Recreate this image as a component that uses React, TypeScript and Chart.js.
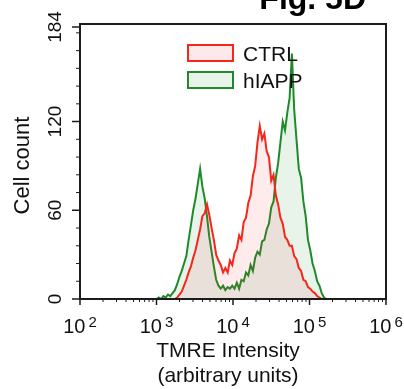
import React, { useEffect, useRef } from 'react';
import { Chart, registerables } from 'chart.js';

Chart.register(...registerables);

// ---- data ----
const binLog10 = [
  3.00, 3.03, 3.06, 3.09, 3.12, 3.15, 3.18, 3.21, 3.24, 3.27,
  3.30, 3.33, 3.36, 3.39, 3.42, 3.45, 3.48, 3.51, 3.54, 3.57,
  3.60, 3.63, 3.66, 3.69, 3.72, 3.75, 3.78, 3.81, 3.84, 3.87,
  3.90, 3.93, 3.96, 3.99, 4.02, 4.05, 4.08, 4.11, 4.14, 4.17,
  4.20, 4.23, 4.26, 4.29, 4.32, 4.35, 4.38, 4.41, 4.44, 4.47,
  4.50, 4.53, 4.56, 4.59, 4.62, 4.65, 4.68, 4.71, 4.74, 4.77,
  4.80, 4.83, 4.86, 4.89, 4.92, 4.95, 4.98, 5.01, 5.04, 5.07,
  5.10, 5.13, 5.16, 5.19, 5.22, 5.25,
];

const ctrlCounts = [
  null, null, null, null, null, null, null, null, 0, 1,
  3, 5, 9, 13, 18, 22, 28, 33, 40, 47,
  56, 58, 64, 57, 48, 40, 30, 26, 23, 18,
  21, 18, 26, 23, 31, 34, 43, 40, 52, 55,
  65, 70, 83, 90, 106, 117, 108, 112, 100, 96,
  80, 84, 70, 64, 55, 51, 42, 40, 36, 36,
  29, 27, 21, 19, 13, 12, 8, 7, 5, 4,
  2, 1, 0, null, null, null,
];

const hiappCounts = [
  0, 1, 0, 2, 1, 3, 2, 4, 6, 10,
  15, 19, 24, 29, 40, 50, 60, 68, 78, 88,
  76, 68, 56, 42, 32, 22, 13, 9, 7, 9,
  6, 8, 7, 9, 7, 11, 7, 13, 12, 18,
  16, 23, 19, 28, 32, 30, 39, 40, 47, 51,
  62, 66, 82, 92, 106, 120, 114, 126, 136, 166,
  128, 108, 88, 82, 66, 56, 40, 33, 24, 19,
  12, 9, 4, 1, 0, 0,
];

const seriesNames = ['CTRL', 'hIAPP'];
const yMajorTicks = [0, 60, 120, 184];
const yMinorTicks = [12, 24, 36, 48, 72, 84, 96, 108, 132, 144, 156, 168, 180];
const xDecades = [2, 3, 4, 5, 6];
const xMinorMultipliers = [2, 3, 4, 5, 6, 7, 8, 9];
const xTitleLines = ['TMRE Intensity', '(arbitrary units)'];
const yTitle = 'Cell count';
const figTitle = 'Fig. 5D';

// ---- styles ----
const FONT = '"Liberation Sans", Arial, Helvetica, sans-serif';
const lineColors = ['#f5261a', '#1f8a2a'];
const fillColors = ['rgba(240,40,40,0.09)', 'rgba(30,140,50,0.10)'];
const legendFills = ['#fde9e9', '#e8f4ea'];

const decoPlugin = {
  id: 'flowDeco',
  afterDatasetsDraw(chart: any) {
    const { ctx, chartArea: a, scales } = chart;
    const xs = scales.x;
    const ys = scales.y;
    ctx.save();

    // frame
    ctx.strokeStyle = '#1c1c1c';
    ctx.lineWidth = 2;
    ctx.beginPath();
    ctx.moveTo(a.left, a.top);
    ctx.lineTo(a.left, a.bottom);
    ctx.lineTo(a.right, a.bottom);
    ctx.lineTo(a.right, a.top);
    ctx.closePath();
    ctx.stroke();

    // y ticks
    ctx.lineWidth = 1.5;
    ctx.beginPath();
    yMajorTicks.forEach((v) => {
      const py = ys.getPixelForValue(v);
      ctx.moveTo(a.left - 8, py);
      ctx.lineTo(a.left, py);
    });
    ctx.stroke();
    ctx.lineWidth = 1;
    ctx.beginPath();
    yMinorTicks.forEach((v) => {
      const py = ys.getPixelForValue(v);
      ctx.moveTo(a.left - 4, py);
      ctx.lineTo(a.left, py);
    });
    ctx.stroke();

    // x ticks
    ctx.lineWidth = 1.5;
    ctx.beginPath();
    xDecades.forEach((d) => {
      const px = xs.getPixelForValue(Math.pow(10, d));
      ctx.moveTo(px, a.bottom);
      ctx.lineTo(px, a.bottom + 6);
    });
    ctx.stroke();
    ctx.lineWidth = 1;
    ctx.beginPath();
    xDecades.slice(0, -1).forEach((d) => {
      xMinorMultipliers.forEach((m) => {
        const px = xs.getPixelForValue(m * Math.pow(10, d));
        ctx.moveTo(px, a.bottom);
        ctx.lineTo(px, a.bottom + 3);
      });
    });
    ctx.stroke();

    ctx.fillStyle = '#111';
    ctx.textBaseline = 'alphabetic';

    // x tick labels 10^n
    xDecades.forEach((d) => {
      const px = xs.getPixelForValue(Math.pow(10, d));
      ctx.font = `20px ${FONT}`;
      const wb = ctx.measureText('10').width;
      ctx.font = `15px ${FONT}`;
      const we = ctx.measureText(String(d)).width;
      const gap = 3;
      const start = px - (wb + gap + we) / 2;
      ctx.textAlign = 'left';
      ctx.font = `20px ${FONT}`;
      ctx.fillText('10', start, a.bottom + 34);
      ctx.font = `15px ${FONT}`;
      ctx.fillText(String(d), start + wb + gap, a.bottom + 28);
    });

    // y tick labels (rotated)
    ctx.font = `19px ${FONT}`;
    ctx.textAlign = 'center';
    yMajorTicks.forEach((v) => {
      const py = ys.getPixelForValue(v);
      ctx.save();
      ctx.translate(a.left - 19, py);
      ctx.rotate(-Math.PI / 2);
      ctx.fillText(String(v), 0, 0);
      ctx.restore();
    });

    // y title
    ctx.font = `22px ${FONT}`;
    ctx.save();
    ctx.translate(a.left - 51, (a.top + a.bottom) / 2 + 4);
    ctx.rotate(-Math.PI / 2);
    ctx.fillText(yTitle, 0, 0);
    ctx.restore();

    // x title
    ctx.font = `21px ${FONT}`;
    const cx = (a.left + a.right) / 2 - 5;
    ctx.fillText(xTitleLines[0], cx, a.bottom + 58);
    ctx.fillText(xTitleLines[1], cx, a.bottom + 83);

    // legend
    chart.data.datasets.forEach((ds: any, i: number) => {
      const bx = 188;
      const by = 45 + i * 27;
      ctx.fillStyle = legendFills[i];
      ctx.fillRect(bx, by, 45, 16);
      ctx.strokeStyle = ds.borderColor;
      ctx.lineWidth = 2;
      ctx.strokeRect(bx, by, 45, 16);
      ctx.fillStyle = '#111';
      ctx.font = `21px ${FONT}`;
      ctx.textAlign = 'left';
      ctx.fillText(ds.label, bx + 55, by + 16);
    });

    // figure title (cut by top edge)
    ctx.font = `bold 32px ${FONT}`;
    ctx.textAlign = 'right';
    ctx.fillStyle = '#000';
    ctx.fillText(figTitle, 366, 9);

    ctx.restore();
  },
};

export default function App() {
  const canvasRef = useRef<HTMLCanvasElement | null>(null);

  useEffect(() => {
    document.body.style.margin = '0';
    const canvas = canvasRef.current;
    if (!canvas) return;
    const counts = [ctrlCounts, hiappCounts];
    const chart = new Chart(canvas, {
      type: 'line',
      data: {
        datasets: seriesNames.map((name, i) => ({
          label: name,
          data: binLog10.map((e, k) => ({ x: Math.pow(10, e), y: counts[i][k] })),
          borderColor: lineColors[i],
          backgroundColor: fillColors[i],
          borderWidth: 2,
          fill: 'origin',
          pointRadius: 0,
          tension: 0,
          spanGaps: false,
        })),
      },
      options: {
        animation: false,
        responsive: false,
        devicePixelRatio: 1,
        layout: { padding: { left: 80, right: 18, top: 24, bottom: 90 } },
        scales: {
          x: { type: 'logarithmic', min: 100, max: 1000000, display: false },
          y: { type: 'linear', min: 0, max: 186, display: false },
        },
        plugins: {
          legend: { display: false },
          tooltip: { enabled: false },
          title: { display: false },
        },
      },
      plugins: [decoPlugin],
    });
    return () => chart.destroy();
  }, []);

  return (
    <div style={{ width: 404, height: 389, background: '#fff' }}>
      <canvas ref={canvasRef} width={404} height={389} />
    </div>
  );
}
